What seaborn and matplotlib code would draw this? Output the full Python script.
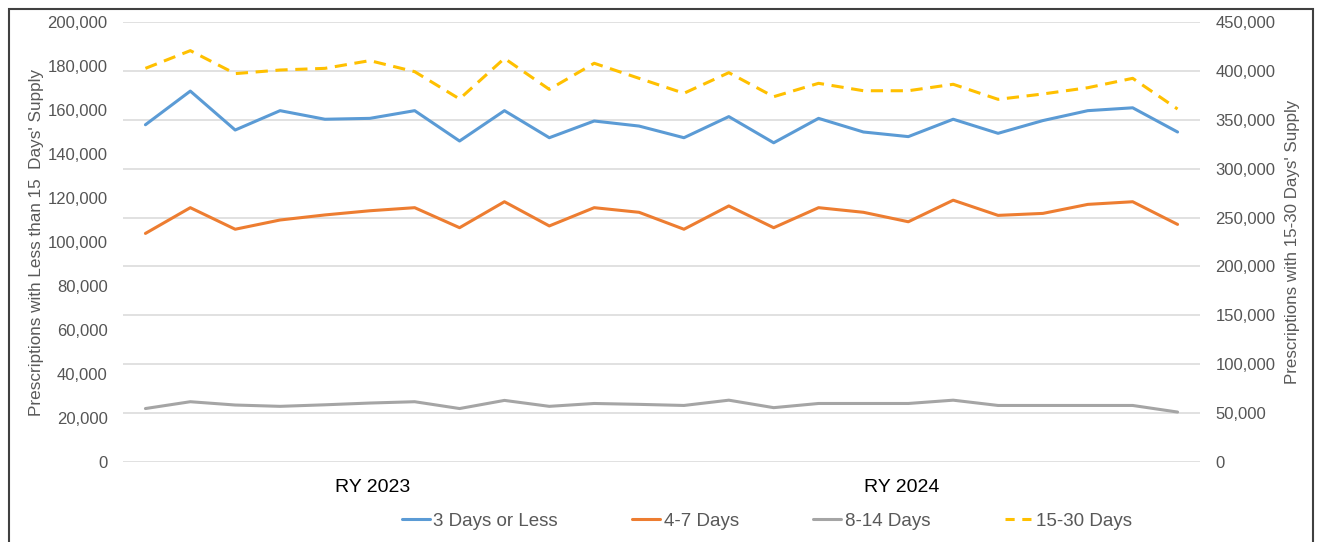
import numpy as np
import pandas as pd
import seaborn as sns
import matplotlib.pyplot as plt
from matplotlib.lines import Line2D
from matplotlib.patches import Rectangle
from matplotlib.ticker import FuncFormatter

# values (12 periods per reporting year)
periods = list(range(24))
year_labels = ['RY 2023', 'RY 2024']
days_3_or_less = [153300, 168600, 150900, 159700, 155800, 156200, 159700, 145900,
                  159700, 147400, 155000, 152700, 147400, 157000, 145100, 156200,
                  150000, 147900, 155800, 149400, 155200, 159700, 161000, 150000]
days_4_7 = [103900, 115600, 105800, 110000, 112300, 114200, 115600, 106500,
            118300, 107300, 115600, 113500, 105800, 116400, 106500, 115600,
            113500, 109200, 119000, 112100, 113000, 117100, 118300, 108000]
days_8_14 = [24300, 27400, 25900, 25300, 26000, 26800, 27400, 24300,
             28000, 25300, 26600, 26200, 25700, 28100, 24700, 26600,
             26600, 26600, 28100, 25700, 25700, 25700, 25700, 22700]
days_15_30 = [402600, 420700, 397200, 400900, 402600, 410500, 399200, 371300,
              412800, 381100, 407800, 392400, 377100, 398200, 373600, 387300,
              379700, 379700, 386300, 370900, 376400, 382800, 392400, 361000]

left_names = ['3 Days or Less', '4-7 Days', '8-14 Days']
right_name = '15-30 Days'
colors = {'3 Days or Less': '#5B9BD5', '4-7 Days': '#ED7D31',
          '8-14 Days': '#A5A5A5', '15-30 Days': '#FFC000'}

df_left = pd.DataFrame({
    'period': periods * 3,
    'series': np.repeat(left_names, 24),
    'value': days_3_or_less + days_4_7 + days_8_14,
})
df_right = pd.DataFrame({'period': periods, 'value': days_15_30})

sns.set_style('white')
plt.rcParams['font.family'] = ['Liberation Sans', 'DejaVu Sans']

W, H = 1320, 542
fig = plt.figure(figsize=(W / 100, H / 100), dpi=100)
fig.subplots_adjust(left=123 / W, right=1200 / W, top=1 - 22 / H, bottom=1 - 462 / H)
ax = fig.add_subplot(111)
ax2 = ax.twinx()
ax.set_zorder(ax2.get_zorder() + 1)
ax.patch.set_visible(False)

lw = 2.2
sns.lineplot(data=df_left, x='period', y='value', hue='series', palette=colors,
             ax=ax, lw=lw, legend=False, sort=False)
sns.lineplot(data=df_right, x='period', y='value', ax=ax2, color=colors[right_name],
             lw=lw, linestyle=(0, (4, 2.5)), legend=False, sort=False)

ax.set_xlim(-0.5, 23.5)
ax.set_ylim(0, 200000)
ax2.set_ylim(0, 450000)
ax.set_yticks(np.arange(0, 200001, 20000))
ax2.set_yticks(np.arange(0, 450001, 50000))
fmt = FuncFormatter(lambda v, _: f'{int(v):,}')
ax.yaxis.set_major_formatter(fmt)
ax2.yaxis.set_major_formatter(fmt)
ax.set_xticks([])
ax.set_xlabel('')
ax.set_ylabel('')
ax2.set_ylabel('')
ax.tick_params(axis='y', length=0, pad=11, labelsize=12, labelcolor='#555555')
ax2.tick_params(axis='y', length=0, pad=11, labelsize=12, labelcolor='#555555')
ax.grid(False)
ax2.grid(axis='y', color='#D9D9D9', lw=1.1)
for a in (ax, ax2):
    for s in a.spines.values():
        s.set_visible(False)

# year group labels under the category axis
for xpos, lab in zip([5.06, 16.85], year_labels):
    ax.text(xpos, -0.059, lab, transform=ax.get_xaxis_transform(), ha='center',
            va='center', fontsize=14, color='black')

fig.text(37 / W, 1 - 242 / H, "Prescriptions with Less than 15  Days' Supply",
         rotation=90, ha='center', va='center', fontsize=12.3, color='#595959')
fig.text(1292 / W, 1 - 242 / H, "Prescriptions with 15-30 Days' Supply",
         rotation=90, ha='center', va='center', fontsize=12.2, color='#595959')

handles = [Line2D([], [], color=colors[n], lw=lw) for n in left_names]
handles.append(Line2D([], [], color=colors[right_name], lw=lw, linestyle=(0, (3, 2.5))))
leg = fig.legend(handles, left_names + [right_name], loc='center', ncol=4,
                 bbox_to_anchor=(767 / W, 1 - 521 / H), frameon=False, fontsize=13.5,
                 handlelength=1.5, handletextpad=0.2, columnspacing=3.95)
for t in leg.get_texts():
    t.set_color('#595959')

# chart border
fig.patches.append(Rectangle((9 / W, -0.05), 1304 / W, 1.05 - 9 / H, transform=fig.transFigure,
                             fill=False, edgecolor='#404040', lw=1.5))

fig.savefig('out.png', dpi=100)
